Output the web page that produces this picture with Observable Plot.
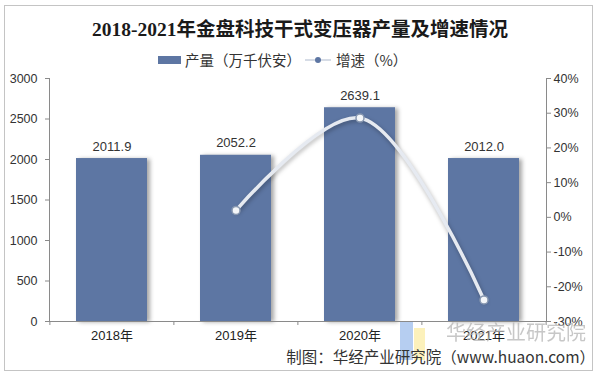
<!DOCTYPE html>
<html>
<head>
<meta charset="utf-8">
<script src="https://cdn.jsdelivr.net/npm/d3@7"></script>
<script src="https://cdn.jsdelivr.net/npm/@observablehq/plot@0.6"></script>
<style>
  html, body { margin: 0; padding: 0; background: #fff; }
  #wrap { position: relative; width: 600px; height: 376px; overflow: hidden; font-family: "Noto Sans CJK SC", "Liberation Sans", sans-serif; }
  #border { position: absolute; left: 4px; top: 5px; width: 589px; height: 366px; border: 1px solid #c4c4c4; box-sizing: border-box; }
  #title { position: absolute; left: 0; width: 600px; top: 13px; text-align: center; font-family: "Liberation Serif", "Noto Sans CJK SC", serif; font-weight: bold; font-size: 19.5px; color: #1a1a1a; }
  #legend { position: absolute; left: 0; width: 600px; top: 49px; height: 24px; font-size: 14.5px; color: #333; white-space: nowrap; }
  #legend .item { position: absolute; top: 0; display: inline-flex; align-items: center; }
  #legend .sw { display: inline-block; width: 23px; height: 8px; background: #5d76a3; margin-right: 4px; }
  #legend .ln { position: relative; display: inline-block; width: 26px; height: 10px; margin-right: 5px; }
  #legend .ln::before { content: ""; position: absolute; left: 0; right: 0; top: 4px; height: 2px; background: #d6dce6; }
  #legend .ln::after { content: ""; position: absolute; left: 10px; top: 2px; width: 6px; height: 6px; border-radius: 50%; background: #5d76a3; }
  #chart { position: absolute; left: 0; top: 70px; }
  .bars rect { filter: drop-shadow(3px 1px 2px rgba(0,0,0,0.35)); }
  .growth path { filter: drop-shadow(1px 2px 2px rgba(0,0,0,0.3)); }
  #wm { position: absolute; left: 446px; top: 317px; font-size: 20px; color: #b5b5b5; opacity: 0.75; white-space: nowrap; }
  #logo1 { position: absolute; left: 400px; top: 322px; width: 13px; height: 38px; background: #a9c5ee; opacity: 0.85; }
  #logo2 { position: absolute; left: 414px; top: 328px; width: 11px; height: 32px; background: #fcefb4; opacity: 0.9; }
  #caption { position: absolute; right: 5px; top: 345px; font-size: 15.5px; color: #333; white-space: nowrap; }
</style>
</head>
<body>
<div id="wrap">
  <div id="border"></div>
  <div id="title">2018-2021年金盘科技干式变压器产量及增速情况</div>
  <div id="legend">
    <span class="item" style="left:158px"><span class="sw"></span>产量（万千伏安）</span>
    <span class="item" style="left:305px"><span class="ln"></span>增速（%）</span>
  </div>
  <div id="chart"></div>
  <div id="logo1"></div>
  <div id="logo2"></div>
  <div id="wm">华经产业研究院</div>
  <div id="caption">制图：华经产业研究院（www.huaon.com）</div>
</div>
<script>
const years = ["2018年", "2019年", "2020年", "2021年"];
const output = [2011.9, 2052.2, 2639.1, 2012.0];
const growth = [null, 2.0, 28.6, -23.8];
const leftTicks = [0, 500, 1000, 1500, 2000, 2500, 3000];
const growthTicks = [-30, -20, -10, 0, 10, 20, 30, 40];

const gMin = -30, gMax = 40, yMax = 3000;
const g2y = g => (g - gMin) / (gMax - gMin) * yMax;
const y2g = y => y / yMax * (gMax - gMin) + gMin;

const rows = years.map((yr, i) => ({year: yr, output: output[i], growth: growth[i]}));
const growthRows = rows.filter(d => d.growth != null);

const axisColor = "#8a8a8a";
const step = (600 - 49 - 54) / years.length;
const chart = Plot.plot({
  width: 600,
  height: 280,
  marginTop: 8,
  marginBottom: 29,
  marginLeft: 49,
  marginRight: 54,
  x: {domain: years, paddingInner: 0.43, paddingOuter: 0.215, label: null},
  y: {domain: [0, yMax], label: null},
  style: {fontFamily: "'Liberation Sans', 'Noto Sans CJK SC', sans-serif", fontSize: "12.5px", color: "#333", background: "transparent"},
  marks: [
    Plot.barY(rows, {x: "year", y: "output", fill: "#5d76a3", className: "bars"}),
    Plot.text(rows, {x: "year", y: "output", text: d => d.output.toFixed(1), dy: -12, fontSize: 13, fill: "#333"}),
    Plot.frame({anchor: "left", stroke: axisColor}),
    Plot.frame({anchor: "right", stroke: axisColor}),
    Plot.frame({anchor: "bottom", stroke: axisColor}),
    Plot.axisY({ticks: leftTicks, tickSize: 4, tickPadding: 8, stroke: axisColor, label: null, fill: "#333", tickFormat: d => String(d)}),
    Plot.axisY(growthTicks.map(g2y), {anchor: "right", tickSize: 4, tickPadding: 3, stroke: axisColor, label: null, tickFormat: d => Math.round(y2g(d)) + "%", fill: "#333"}),
    Plot.axisX({tickSize: 0, tickPadding: 9, label: null, fontSize: 13, fill: "#222"}),
    Plot.axisX({tickSize: 4, text: null, label: null, stroke: axisColor, dx: -step / 2}),
    Plot.axisX({ticks: [years[years.length - 1]], tickSize: 4, text: null, label: null, stroke: axisColor, dx: step / 2}),
    Plot.line(growthRows, {x: "year", y: d => g2y(d.growth), curve: "catmull-rom", stroke: "#e6eaf1", strokeWidth: 3.5, className: "growth"}),
    Plot.dot(growthRows, {x: "year", y: d => g2y(d.growth), r: 4, fill: "#f4f6f9", stroke: "#8797b0", strokeWidth: 1.5})
  ]
});
document.getElementById("chart").appendChild(chart);
</script>
</body>
</html>
